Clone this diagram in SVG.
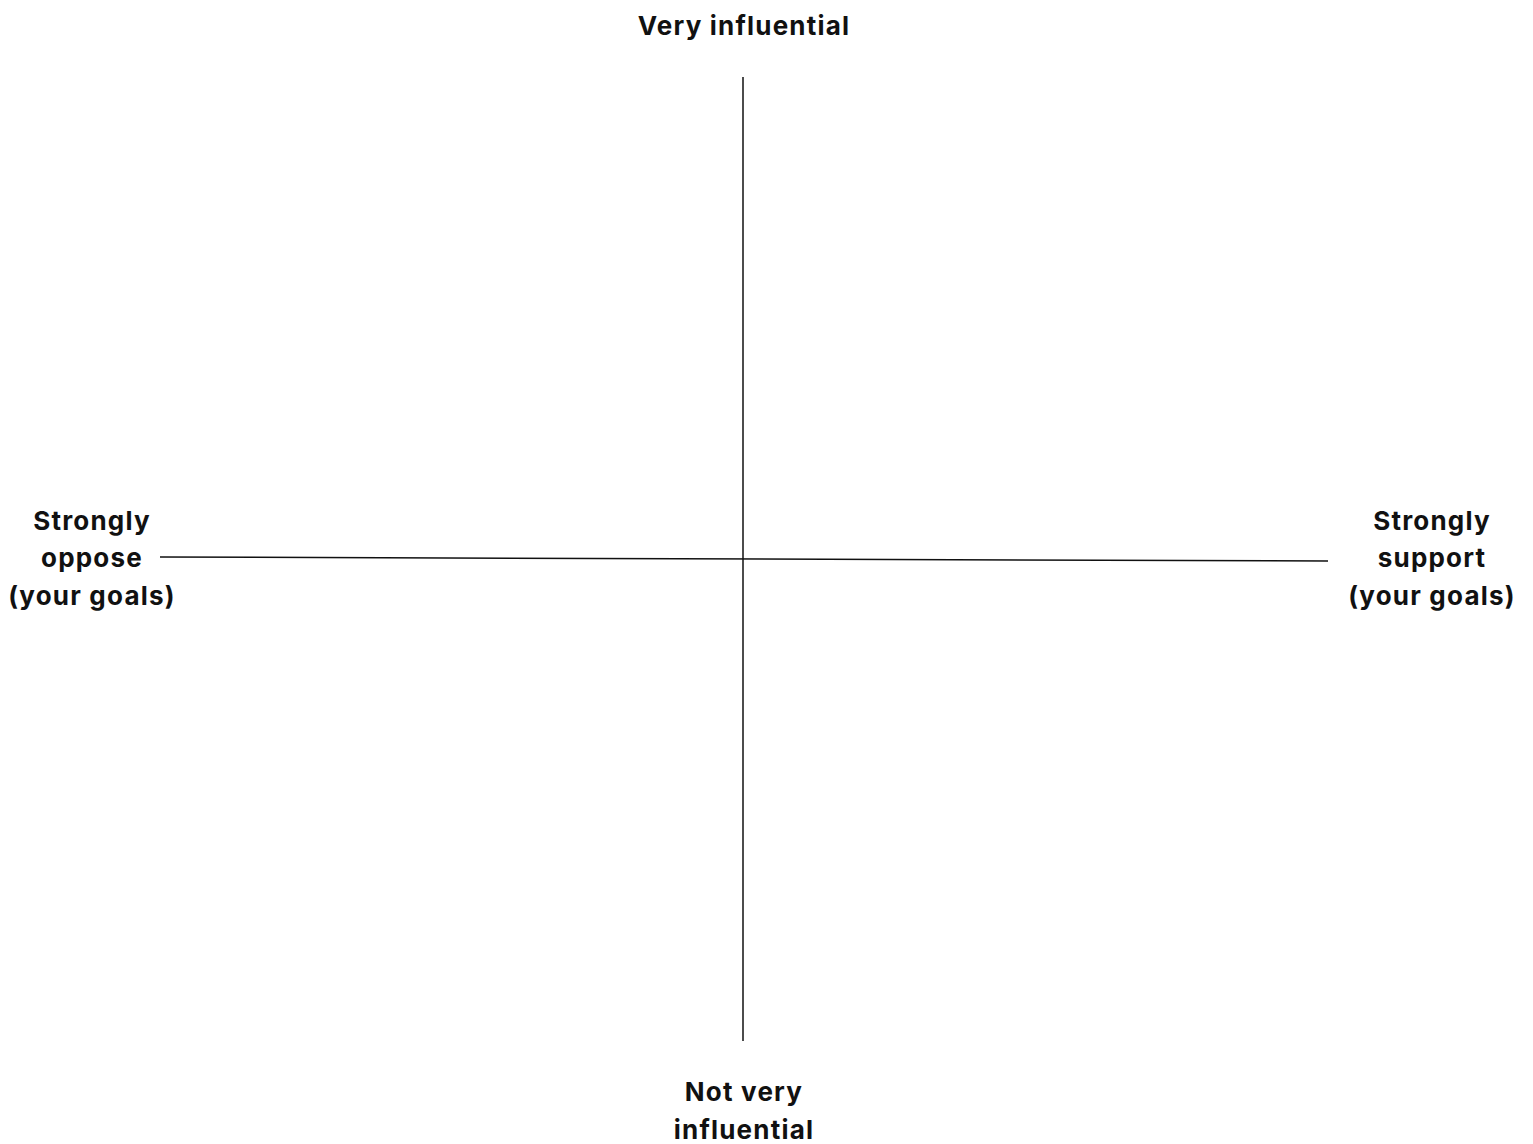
<svg xmlns="http://www.w3.org/2000/svg" width="1533" height="1144" viewBox="0 0 1533 1144">
<style>
.lbl{font-family:Inter,"Liberation Sans",sans-serif;font-weight:bold;font-size:26px;letter-spacing:1.2px;fill:#111;text-anchor:middle}
.axis{stroke:#111;stroke-width:1.5;fill:none}
</style>
<rect width="1533" height="1144" fill="#fff"/>
<g id="connectors">
<line class="axis" x1="743" y1="77" x2="743" y2="1041"/>
<line class="axis" x1="160" y1="557" x2="1328" y2="561"/>
</g>
<g id="top"><text class="lbl" x="744" y="35">Very influential</text></g>
<g id="left"><text class="lbl" x="92" y="530">Strongly</text><text class="lbl" x="92" y="567">oppose</text><text class="lbl" x="92" y="605">(your goals)</text></g>
<g id="right"><text class="lbl" x="1432" y="530">Strongly</text><text class="lbl" x="1432" y="567">support</text><text class="lbl" x="1432" y="605">(your goals)</text></g>
<g id="bottom"><text class="lbl" x="744" y="1101">Not very</text><text class="lbl" x="744" y="1139">influential</text></g>
</svg>
